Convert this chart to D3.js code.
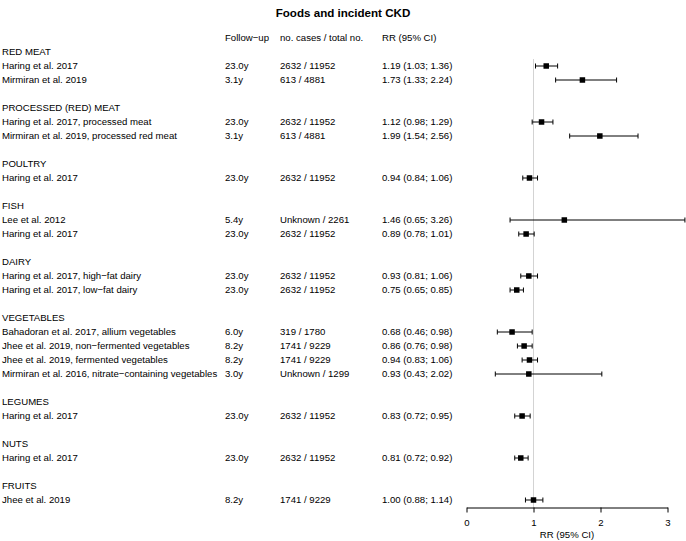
<!DOCTYPE html>
<html><head><meta charset="utf-8">
<script src="https://cdn.jsdelivr.net/npm/d3@7"></script>
<style>body{margin:0;background:#fff}svg{display:block;font-family:"Liberation Sans",Arial,sans-serif}</style>
</head><body><svg id="c" width="686" height="541"></svg>
<script>
const title = "Foods and incident CKD";
const columnHeaders = ["Follow\u2212up", "no. cases / total no.", "RR (95% CI)"];
const groups = ["RED MEAT","PROCESSED (RED) MEAT","POULTRY","FISH","DAIRY","VEGETABLES","LEGUMES","NUTS","FRUITS"];
const studyGroup = [0,0,1,1,2,3,3,4,4,5,5,5,5,6,7,8];
const studies = [
 "Haring et al. 2017","Mirmiran et al. 2019",
 "Haring et al. 2017, processed meat","Mirmiran et al. 2019, processed red meat",
 "Haring et al. 2017",
 "Lee et al. 2012","Haring et al. 2017",
 "Haring et al. 2017, high\u2212fat dairy","Haring et al. 2017, low\u2212fat dairy",
 "Bahadoran et al. 2017, allium vegetables","Jhee et al. 2019, non\u2212fermented vegetables","Jhee et al. 2019, fermented vegetables","Mirmiran et al. 2016, nitrate\u2212containing vegetables",
 "Haring et al. 2017","Haring et al. 2017","Jhee et al. 2019"];
const followUp = ["23.0y","3.1y","23.0y","3.1y","23.0y","5.4y","23.0y","23.0y","23.0y","6.0y","8.2y","8.2y","3.0y","23.0y","23.0y","8.2y"];
const casesTotal = ["2632 / 11952","613 / 4881","2632 / 11952","613 / 4881","2632 / 11952","Unknown / 2261","2632 / 11952","2632 / 11952","2632 / 11952","319 / 1780","1741 / 9229","1741 / 9229","Unknown / 1299","2632 / 11952","2632 / 11952","1741 / 9229"];
const rr    = [1.19,1.73,1.12,1.99,0.94,1.46,0.89,0.93,0.75,0.68,0.86,0.94,0.93,0.83,0.81,1.00];
const lower = [1.03,1.33,0.98,1.54,0.84,0.65,0.78,0.81,0.65,0.46,0.76,0.83,0.43,0.72,0.72,0.88];
const upper = [1.36,2.24,1.29,2.56,1.06,3.26,1.01,1.06,0.85,0.98,0.98,1.06,2.02,0.95,0.92,1.14];
const xTicks = [0,1,2,3];
const xLabel = "RR (95% CI)";

// build row layout
const rows = [];
groups.forEach((g, gi) => {
  if (gi > 0) rows.push({type:"blank"});
  rows.push({type:"group", name:g});
  studyGroup.forEach((sg, i) => { if (sg === gi) rows.push({type:"study", i}); });
});

const svg = d3.select("#c");
const y = d3.scaleLinear().domain([0, 1]).range([38, 52]);
const x = d3.scaleLinear().domain([0, 3]).range([466.5, 667.5]);
const fs = 9.6;
const colX = [2, 225, 280, 382];

svg.append("text").attr("x", 343).attr("y", 12.5).attr("dy", "0.35em")
  .attr("text-anchor", "middle").attr("font-weight", "bold").attr("font-size", 11.6).text(title);

columnHeaders.forEach((h, k) => {
  svg.append("text").attr("x", colX[k+1]).attr("y", y(0)).attr("dy", "0.35em").attr("font-size", fs).text(h);
});

const yAxis = 507.5;
svg.append("line").attr("x1", x(1)).attr("x2", x(1)).attr("y1", y(1) + 7).attr("y2", yAxis)
  .attr("stroke", "#d3d3d3").attr("stroke-width", 1);

rows.forEach((r, k) => {
  const yy = y(k + 1);
  if (r.type === "group") {
    svg.append("text").attr("x", colX[0]).attr("y", yy).attr("dy", "0.35em").attr("font-size", fs).text(r.name);
  } else if (r.type === "study") {
    const i = r.i;
    const cols = [studies[i], followUp[i], casesTotal[i],
      `${rr[i].toFixed(2)} (${lower[i].toFixed(2)}; ${upper[i].toFixed(2)})`];
    cols.forEach((t, c) => svg.append("text").attr("x", colX[c]).attr("y", yy).attr("dy", "0.35em").attr("font-size", fs).text(t));
    const g = svg.append("g").attr("stroke", "#000").attr("stroke-width", 1);
    g.append("line").attr("x1", x(lower[i])).attr("x2", x(upper[i])).attr("y1", yy).attr("y2", yy);
    g.append("line").attr("x1", x(lower[i])).attr("x2", x(lower[i])).attr("y1", yy - 2.5).attr("y2", yy + 2.5);
    g.append("line").attr("x1", x(upper[i])).attr("x2", x(upper[i])).attr("y1", yy - 2.5).attr("y2", yy + 2.5);
    svg.append("rect").attr("x", x(rr[i]) - 2.75).attr("y", yy - 2.75).attr("width", 5.5).attr("height", 5.5).attr("fill", "#000");
  }
});

const ax = svg.append("g").attr("transform", `translate(0,${yAxis})`)
  .call(d3.axisBottom(x).tickValues(xTicks).tickFormat(d3.format("d")).tickSize(5).tickSizeOuter(0));
ax.select(".domain").attr("stroke", "#000");
ax.selectAll(".tick line").attr("stroke", "#000");
ax.selectAll(".tick text").attr("font-size", fs).attr("font-family", "Liberation Sans, Arial, sans-serif").attr("fill", "#000").attr("dy", "1.05em");
svg.append("text").attr("x", (x(0) + x(3)) / 2).attr("y", 534.5).attr("dy", "0.35em")
  .attr("text-anchor", "middle").attr("font-size", fs).text(xLabel);
</script></body></html>
